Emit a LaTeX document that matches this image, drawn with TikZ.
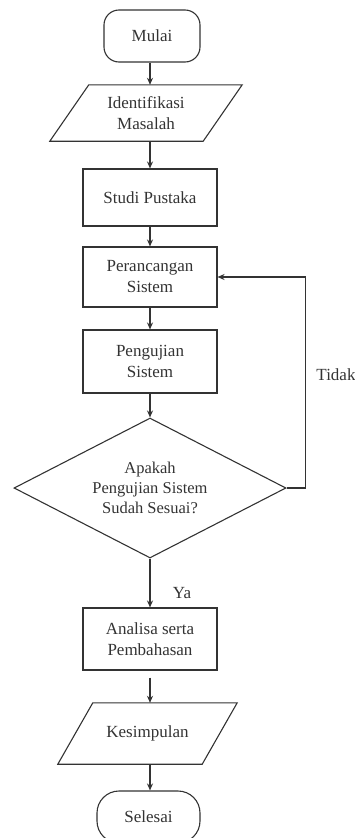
\documentclass[tikz,border=0pt]{standalone}
\usepackage{fontspec}
\setmainfont{Liberation Serif}
\usetikzlibrary{shapes.geometric,arrows.meta}
\definecolor{ink}{HTML}{333333}
\begin{document}
\begin{tikzpicture}[x=1pt,y=-1pt,
  every node/.style={font=\fontsize{17}{21}\selectfont, text=ink},
  line/.style={draw=ink, line width=1.1pt},
  arr/.style={line, -{Stealth[length=7pt,width=6pt]}},
  boxnode/.style={line, rectangle, minimum width=134pt, align=center, inner sep=0pt},
  termnode/.style={line, rectangle, align=center, inner sep=0pt},
  parabody/.style={rectangle, draw=none, align=center, inner sep=0pt},
  decnode/.style={line, diamond, aspect=1.94, minimum width=272pt, minimum height=140pt, inner sep=0pt, align=center, font=\fontsize{16.5}{20}\selectfont},
  lbl/.style={inner sep=0pt}
]
\useasboundingbox (0,0) rectangle (355,838);

\node[termnode, rounded corners=15pt, minimum width=96pt, minimum height=52pt] (mulai) at (152,36) {Mulai};

\node[parabody, minimum width=153pt, minimum height=56pt] (ident) at (146,113) {Identifikasi\\Masalah};
\draw[line] ([xshift=19.5pt]ident.north west) -- ([xshift=19.5pt]ident.north east)
  -- ([xshift=-19.5pt]ident.south east) -- ([xshift=-19.5pt]ident.south west) -- cycle;

\node[boxnode, minimum height=57pt] (studi) at (150,197.5) {Studi Pustaka};
\node[boxnode, minimum height=60pt] (peran) at (150,277) {Perancangan\\Sistem};
\node[boxnode, minimum height=63pt] (peng) at (150,361.5) {Pengujian\\Sistem};

\node[decnode] (dec) at (150,488) {Apakah\\Pengujian Sistem\\Sudah Sesuai?};

\node[boxnode, minimum height=62pt] (anal) at (150,639) {Analisa serta\\Pembahasan};

\node[parabody, minimum width=144pt, minimum height=61pt] (kes) at (147.5,733.5) {Kesimpulan};
\draw[line] ([xshift=17.5pt]kes.north west) -- ([xshift=17.5pt]kes.north east)
  -- ([xshift=-17.5pt]kes.south east) -- ([xshift=-17.5pt]kes.south west) -- cycle;

\node[termnode, rounded corners=22pt, minimum width=103pt, minimum height=52pt] (selesai) at (148.5,817) {Selesai};

\draw[arr] (mulai.south -| studi) -- (ident.north -| studi);
\draw[arr] (ident.south -| studi) -- (studi.north);
\draw[arr] (studi.south) -- (peran.north);
\draw[arr] (peran.south) -- (peng.north);
\draw[arr] (peng.south) -- (dec.north);
\draw[arr] (dec.south) -- (anal.north);
\draw[arr] ([yshift=-7pt]anal.south) -- (kes.north -| anal);
\draw[arr] (kes.south -| anal) -- (selesai.north -| anal);
\draw[arr] (dec.east) -- ++(19,0) |- (peran.east);

\node[lbl] (ya) at (182,593) {Ya};
\node[lbl] (tidak) at (336,375) {Tidak};
\end{tikzpicture}
\end{document}
